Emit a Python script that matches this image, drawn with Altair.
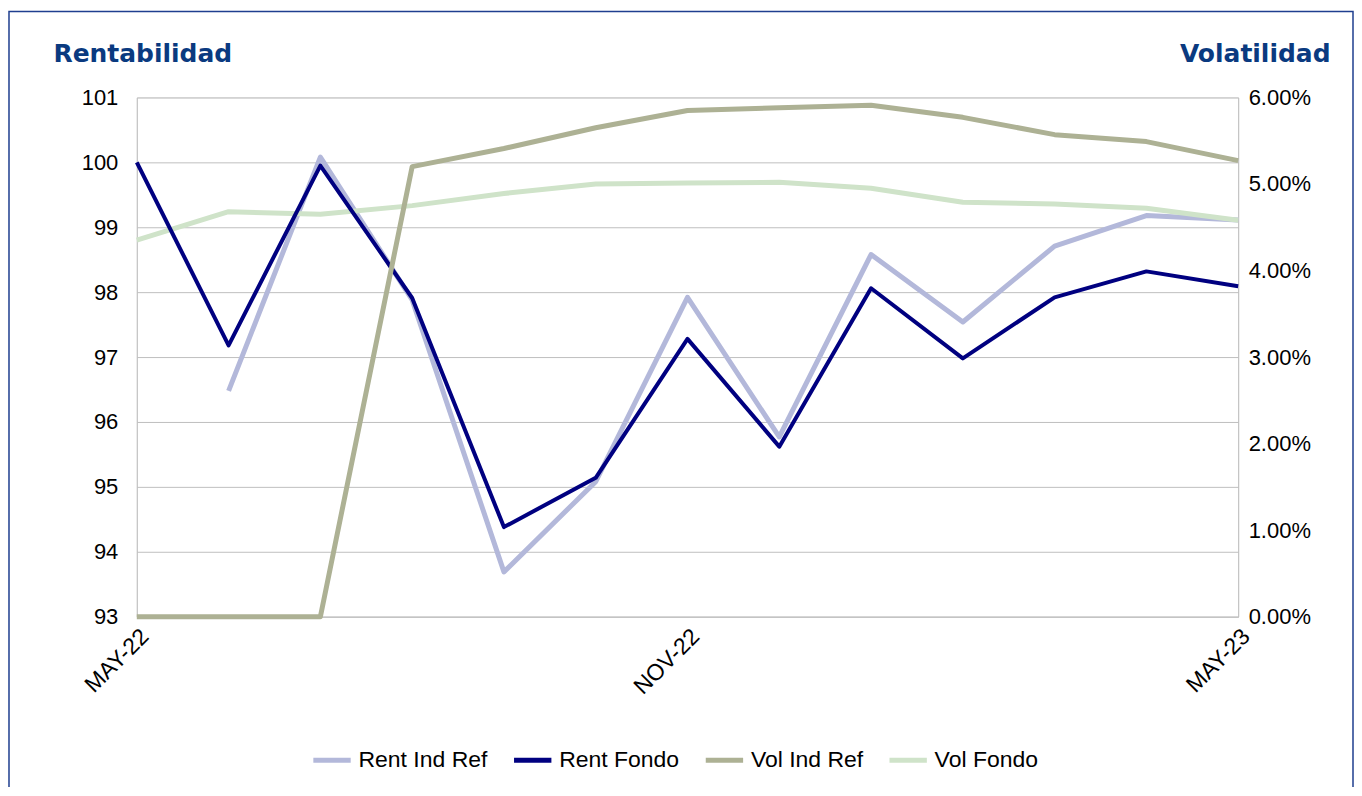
import altair as alt
import pandas as pd

months = ["MAY-22", "JUN-22", "JUL-22", "AGO-22", "SEP-22", "OCT-22", "NOV-22",
          "DIC-22", "ENE-23", "FEB-23", "MAR-23", "ABR-23", "MAY-23"]
shown_labels = ["MAY-22", "NOV-22", "MAY-23"]

rent_ind_ref = [None, 96.48, 100.08, 97.88, 93.69, 95.08, 97.92, 95.77, 98.58, 97.54, 98.71, 99.18, 99.11]
rent_fondo = [100.0, 97.18, 99.95, 97.91, 94.38, 95.14, 97.28, 95.62, 98.06, 96.98, 97.92, 98.32, 98.09]
vol_ind_ref = [0.0, 0.0, 0.0, 0.0520, 0.0541, 0.0565, 0.0585, 0.0588, 0.0591, 0.0577, 0.0557, 0.0549, 0.0527]
vol_fondo = [0.0435, 0.0468, 0.0465, 0.0475, 0.0489, 0.0500, 0.0501, 0.0502, 0.0495, 0.0479, 0.0477, 0.0472, 0.0458]

series_names = ["Rent Ind Ref", "Rent Fondo", "Vol Ind Ref", "Vol Fondo"]
series_colors = ["#b3b8da", "#000080", "#adb194", "#cfe3c9"]

rows = []
for name, vals in zip(series_names, [rent_ind_ref, rent_fondo, vol_ind_ref, vol_fondo]):
    for m, v in zip(months, vals):
        rows.append({"mes": m, "serie": name, "valor": v})
df = pd.DataFrame(rows)

FONT = "Liberation Sans"
TITLE_COLOR = "#0a3a80"

color = alt.Color("serie:N",
                  scale=alt.Scale(domain=series_names, range=series_colors),
                  legend=alt.Legend(title=None, orient="none", direction="horizontal",
                                    legendX=174, legendY=642,
                                    symbolType="stroke", symbolSize=1400,
                                    symbolStrokeWidth=5, labelFontSize=23,
                                    labelFont=FONT, labelColor="#000000",
                                    columnPadding=15, symbolOffset=0, labelOffset=5))

xenc = alt.X("mes:O", sort=months,
             scale=alt.Scale(type="point", padding=0),
             axis=alt.Axis(title=None, values=shown_labels, labelAngle=-45,
                           labelAlign="right", labelBaseline="top",
                           labelFontSize=23, labelFont=FONT, labelColor="#000000",
                           ticks=False, domainColor="#bfbfbf", labelPadding=8,
                           grid=False))

left_scale = alt.Scale(domain=[93, 101], nice=False, zero=False)
right_scale = alt.Scale(domain=[0, 0.06], nice=False)

left_axis = alt.Axis(title="Rentabilidad", titleAngle=0, titleAlign="left",
                     titleBaseline="alphabetic", titleX=-84, titleY=-36,
                     titleFont="DejaVu Sans", titleFontSize=25, titleFontWeight="bold",
                     titleColor=TITLE_COLOR, values=list(range(93, 102)),
                     labelFontSize=22, labelFont=FONT, labelColor="#000000",
                     ticks=False, labelPadding=19, domainColor="#bfbfbf",
                     gridColor="#bfbfbf", grid=True)
right_axis = alt.Axis(title="Volatilidad", titleAngle=0, titleAlign="right",
                      titleBaseline="alphabetic", titleX=92, titleY=-36,
                      titleFont="DejaVu Sans", titleFontSize=25, titleFontWeight="bold",
                      titleColor=TITLE_COLOR, format=".2%",
                      values=[0, 0.01, 0.02, 0.03, 0.04, 0.05, 0.06],
                      labelFontSize=22, labelFont=FONT, labelColor="#000000",
                      ticks=False, labelPadding=10, domainColor="#bfbfbf", grid=False,
                      orient="right")


def line(name, scale, axis, width):
    return alt.Chart(df).transform_filter(
        alt.datum.serie == name
    ).mark_line(strokeWidth=width, strokeCap="butt", strokeJoin="round").encode(
        x=xenc,
        y=alt.Y("valor:Q", scale=scale, axis=axis),
        color=color,
    )


l1 = line("Rent Ind Ref", left_scale, left_axis, 5)
l2 = line("Vol Fondo", right_scale, right_axis, 5)
l3 = line("Rent Fondo", left_scale, None, 4)
l4 = line("Vol Ind Ref", right_scale, None, 5)

frame = alt.Chart(pd.DataFrame({"k": [1]})).mark_rect(
    fill=None, stroke="#1f3f8f", strokeWidth=1.5
).encode(x=alt.value(-128), x2=alt.value(1218), y=alt.value(-86), y2=alt.value(720))

chart = alt.layer(l1, l2, l3, l4, frame).resolve_scale(
    y="independent"
).properties(
    width=1103, height=520,
    autosize=alt.AutoSizeParams(type="none"),
    padding={"left": 129, "top": 89, "right": 116, "bottom": 170},
).configure_view(
    stroke="#bfbfbf", strokeWidth=1
).configure(background="white")

chart.save("out.html", embed_options={"renderer": "svg", "actions": False})
